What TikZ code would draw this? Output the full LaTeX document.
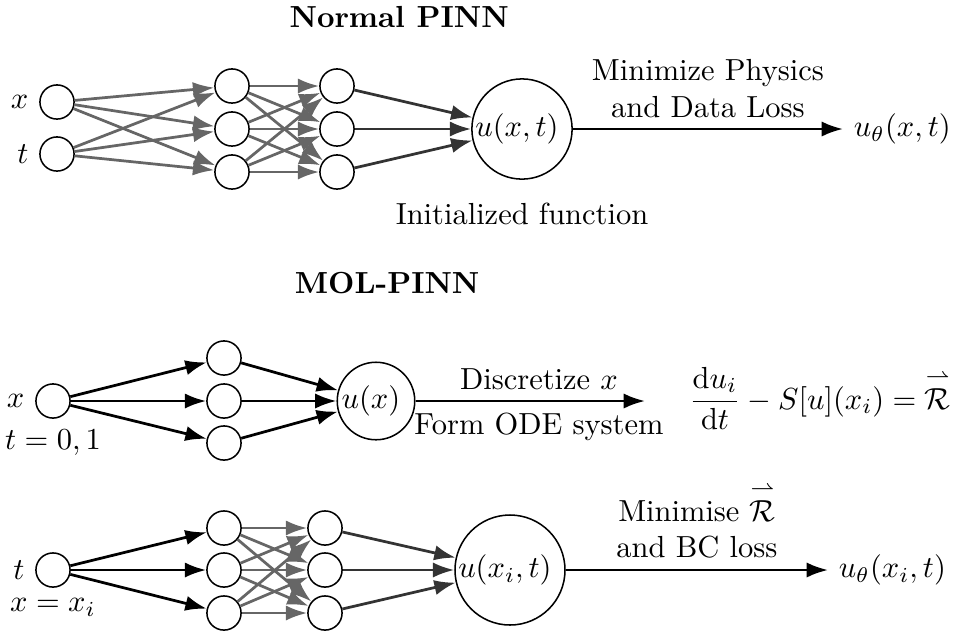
\documentclass[tikz,border=0pt]{standalone}
\usepackage{amsmath,amssymb}
\usepackage{tikz}
\usetikzlibrary{positioning, arrows.meta}

\begin{document}
\begin{tikzpicture}[x = 0.328pt, y = -0.328pt,
    every node/.style = { align = center },
    neuron/.style = { draw, shape = circle, line width = 0.5pt, minimum size = 11.2pt, inner sep = 0pt },
    outnode/.style = { draw, shape = circle, line width = 0.5pt, inner sep = 0.3pt },
    conn/.style = { line width = 0.9pt, -{Latex[length = 7pt, width = 5pt]} }]
    \useasboundingbox (0,0) rectangle (956,631);

    % Normal PINN
    \node (titlepinn) at (405,17) { \bfseries Normal PINN };
    \node [neuron, label = {left:$x$}] (xin) at (57,102) {};
    \node [neuron, label = {left:$t$}] (tin) at (57,154) {};
    \foreach \y [count = \i] in {86,129,172} {
      \node [neuron] (ha\i) at (232,\y) {};
      \node [neuron] (hb\i) at (337,\y) {};
    }
    \node [outnode, label = {[label distance = 4pt]below:Initialized function}] (uxt) at (522,129) { $u(x,t)$ };
    \node [anchor = west] (uthxt) at (843,129) { $u_\theta(x,t)$ };
    \foreach \i in {1,2,3} {
      \draw [conn, black!60] (xin) -- (ha\i);
      \draw [conn, black!60] (tin) -- (ha\i);
      \foreach \j in {1,2,3} \draw [conn, black!60] (ha\i) -- (hb\j);
      \draw [conn, black!80] (hb\i) -- (uxt);
    }
    \draw [conn] (uxt) -- node [above] { Minimize Physics \\ and Data Loss } (uthxt);

    % MOL-PINN, space part
    \node (titlemol) at (393,283) { \bfseries MOL-PINN };
    \node [neuron, label = {left:$x$}, label = {below:$t = 0,1$}] (xmol) at (53,401) {};
    \foreach \y [count = \i] in {358,401,443}
      \node [neuron] (ma\i) at (224,\y) {};
    \node [outnode] (ux) at (376,401) { $u(x)$ };
    \coordinate (odeend) at (645,401);
    \node [anchor = base] (ode) at (825,409)
      { $\dfrac{\mathrm{d}u_i}{\mathrm{d}t} - S[u](x_i) = \overset{\rightharpoonup}{\mathcal{R}}$ };
    \foreach \i in {1,2,3} {
      \draw [conn] (xmol) -- (ma\i);
      \draw [conn] (ma\i) -- (ux);
    }
    \draw [conn] (ux) -- node [above, pos = 0.56] { Discretize $x$ }
                         node [below, pos = 0.56] { Form ODE system } (odeend);

    % MOL-PINN, time part
    \node [neuron, label = {left:$t$}, label = {below:$x = x_i$}] (tmol) at (53,570) {};
    \foreach \y [count = \i] in {528,570,613} {
      \node [neuron] (ta\i) at (224,\y) {};
      \node [neuron] (tb\i) at (325,\y) {};
    }
    \node [outnode] (uxit) at (510,570) { $u(x_i,t)$ };
    \node [anchor = west] (uthxit) at (828,570) { $u_\theta(x_i,t)$ };
    \foreach \i in {1,2,3} {
      \draw [conn] (tmol) -- (ta\i);
      \foreach \j in {1,2,3} \draw [conn, black!60] (ta\i) -- (tb\j);
      \draw [conn, black!80] (tb\i) -- (uxit);
    }
    \draw [conn] (uxit) -- node [above] { Minimise $\overset{\rightharpoonup}{\mathcal{R}}$ \\ and BC loss } (uthxit);
\end{tikzpicture}
\end{document}
